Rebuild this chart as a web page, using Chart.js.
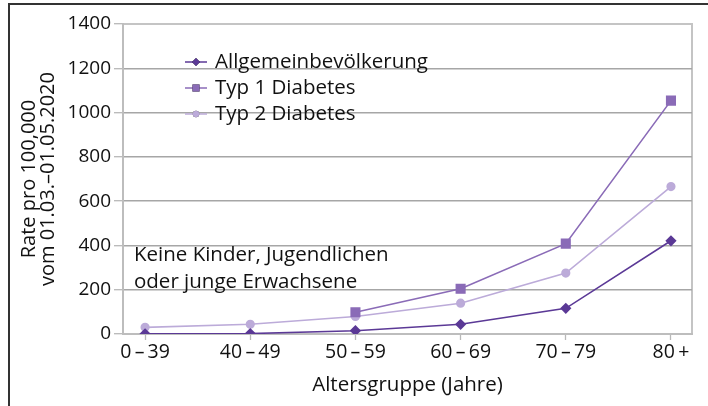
<!DOCTYPE html>
<html>
<head>
<meta charset="utf-8">
<script src="https://cdn.jsdelivr.net/npm/chart.js@4"></script>
<style>
  html, body { margin: 0; padding: 0; background: #fff; }
  #wrap { width: 708px; height: 406px; }
</style>
</head>
<body>
<div id="wrap"><canvas id="chart" width="708" height="406"></canvas></div>
<script>
const altersgruppen = ["0\u2009\u2013\u200939", "40\u2009\u2013\u200949", "50\u2009\u2013\u200959", "60\u2009\u2013\u200969", "70\u2009\u2013\u200979", "80\u2009+"];
const allgemein = [1, 2, 15, 44, 116, 421];
const typ1 = [null, null, 98, 204, 408, 1054];
const typ2 = [30, 44, 79, 139, 275, 666];
const yTicks = [0, 200, 400, 600, 800, 1000, 1200, 1400];
const hinweis = ["Keine Kinder, Jugendlichen", "oder junge Erwachsene"];

const FONT = "'Open Sans', 'DejaVu Sans', sans-serif";

function punkte(werte) {
  return werte.map((v, i) => ({ x: i, y: v }));
}

// Rahmen, Legende und Hinweistext
const extras = {
  id: "extras",
  beforeDraw(chart) {
    const ctx = chart.ctx;
    const a = chart.chartArea;
    ctx.save();
    // äußerer Rahmen
    ctx.strokeStyle = "#333";
    ctx.lineWidth = 2;
    ctx.beginPath();
    ctx.moveTo(9, 406);
    ctx.lineTo(9, 4);
    ctx.lineTo(708, 4);
    ctx.stroke();
    // Plotrahmen oben / rechts
    ctx.strokeStyle = "#c4c4c4";
    ctx.lineWidth = 2;
    ctx.beginPath();
    ctx.moveTo(a.left, a.top);
    ctx.lineTo(a.right, a.top);
    ctx.lineTo(a.right, a.bottom);
    ctx.stroke();
    ctx.restore();
  },
  afterDraw(chart) {
    const ctx = chart.ctx;
    ctx.save();
    ctx.font = "20.5px " + FONT;
    ctx.textBaseline = "middle";
    ctx.fillStyle = "#111";
    chart.data.datasets.forEach((ds, i) => {
      const y = 62 + i * 26;
      ctx.strokeStyle = ds.borderColor;
      ctx.lineWidth = 1.5;
      ctx.beginPath();
      ctx.moveTo(185, y);
      ctx.lineTo(207, y);
      ctx.stroke();
      Chart.helpers.drawPoint(ctx, {
        pointStyle: ds.pointStyle,
        radius: ds.legendRadius,
        borderWidth: 0
      }, 196, y);
      ctx.fillStyle = ds.borderColor;
      ctx.fill();
      ctx.fillStyle = "#111";
      ctx.fillText(ds.label, 215, y);
    });
    hinweis.forEach((zeile, i) => {
      ctx.fillText(zeile, 134, 255 + i * 27);
    });
    ctx.restore();
  }
};

new Chart(document.getElementById("chart"), {
  type: "line",
  data: {
    datasets: [
      {
        label: "Allgemeinbevölkerung",
        data: punkte(allgemein),
        borderColor: "#5b3996",
        backgroundColor: "#5b3996",
        pointStyle: "rectRot",
        pointRadius: 4.5,
        legendRadius: 4,
        borderWidth: 1.6
      },
      {
        label: "Typ 1 Diabetes",
        data: punkte(typ1),
        borderColor: "#8a6bb7",
        backgroundColor: "#8a6bb7",
        pointStyle: "rect",
        pointRadius: 6,
        legendRadius: 5,
        borderWidth: 1.6
      },
      {
        label: "Typ 2 Diabetes",
        data: punkte(typ2),
        borderColor: "#bcabd9",
        backgroundColor: "#bcabd9",
        pointStyle: "circle",
        pointRadius: 3.8,
        legendRadius: 3.2,
        borderWidth: 1.6
      }
    ]
  },
  options: {
    responsive: false,
    animation: false,
    spanGaps: false,
    layout: { padding: { left: 0, top: 24, right: 16, bottom: 0 } },
    plugins: {
      legend: { display: false },
      tooltip: { enabled: false }
    },
    elements: {
      point: { borderWidth: 0, hoverRadius: 5 },
      line: { tension: 0 }
    },
    scales: {
      x: {
        type: "linear",
        min: -0.21,
        max: 5.2,
        afterFit: s => { s.height = 72; },
        afterBuildTicks: s => { s.ticks = altersgruppen.map((_, i) => ({ value: i })); },
        ticks: {
          callback: v => altersgruppen[v],
          color: "#111",
          font: { family: FONT, size: 19.5 },
          padding: 1,
          maxRotation: 0,
          autoSkip: false
        },
        grid: {
          drawOnChartArea: false,
          tickLength: 6,
          tickColor: "#b8b8b8",
          tickWidth: 1.3
        },
        border: { color: "#bdbdbd", width: 2 },
        title: {
          display: true,
          text: "Altersgruppe (Jahre)",
          color: "#111",
          font: { family: FONT, size: 20.5, lineHeight: 1.2 },
          padding: { top: 0, bottom: 9 }
        }
      },
      y: {
        min: 0,
        max: 1400,
        afterFit: s => { s.width = 123; },
        afterBuildTicks: s => { s.ticks = yTicks.map(v => ({ value: v })); },
        ticks: {
          callback: v => String(v),
          color: "#111",
          font: { family: FONT, size: 19 },
          padding: 3
        },
        grid: {
          color: c => (c.tick && (c.tick.value === 0 || c.tick.value === 1400)) ? "rgba(0,0,0,0)" : "#a6a6a6",
          lineWidth: 1.4,
          tickLength: 9,
          tickColor: "#b8b8b8",
          tickWidth: 1.3
        },
        border: { color: "#bdbdbd", width: 2 },
        title: {
          display: true,
          text: ["Rate pro 100,000", "vom 01.03.\u201301.05.2020"],
          color: "#111",
          font: { family: FONT, size: 20, lineHeight: 0.95 },
          padding: { top: 20, bottom: 0 }
        }
      }
    }
  },
  plugins: [extras]
});
</script>
</body>
</html>
